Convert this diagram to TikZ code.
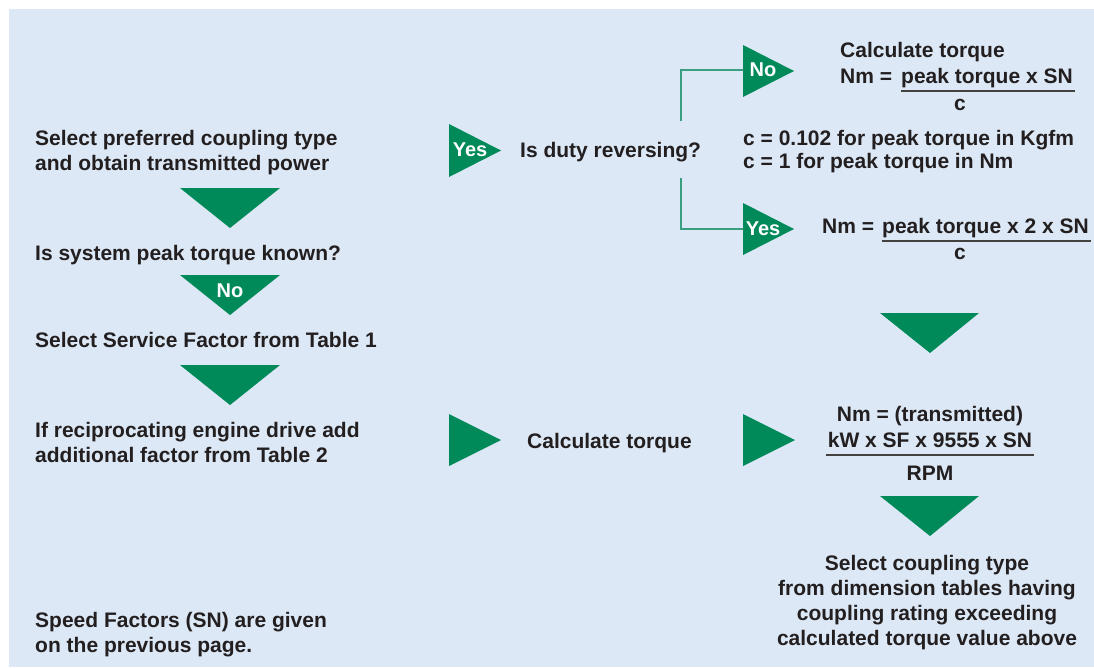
\documentclass[tikz,border=0pt]{standalone}
\usepackage{fontspec}
\setmainfont{Liberation Sans}
\usetikzlibrary{calc}
\definecolor{bgblue}{HTML}{DCE8F5}
\definecolor{tgreen}{HTML}{008A5A}
\definecolor{lgreen}{HTML}{3A9E80}
\definecolor{ink}{HTML}{231F20}
\begin{document}
\begin{tikzpicture}[x=1pt,y=-1pt,
  txt/.style={inner sep=0pt, text=ink, font=\fontsize{21}{25}\selectfont\bfseries},
  lbl/.style={inner sep=0pt, text=white, font=\fontsize{20}{24}\selectfont\bfseries},
  arrowtri/.style={fill=tgreen},
  bracket/.style={draw=lgreen, line width=1.4pt},
  fracline/.style={draw=ink!85, line width=1.4pt}]
\useasboundingbox (0,0) rectangle (1094,667);
\fill[bgblue] (9,9) rectangle (1094,667);

% left column
\node[txt, anchor=north west, align=left] (sel) at (35,130) {Select preferred coupling type\\and obtain transmitted power};
\fill[arrowtri] (180,188) -- (280,188) -- (230,228) -- cycle;
\node[txt, anchor=base west] (peak) at (35,260) {Is system peak torque known?};
\fill[arrowtri] (180,275) -- (280,275) -- (230,315) -- cycle;
\node[lbl] (no1) at (230,291) {No};
\node[txt, anchor=base west] (sf) at (35,347) {Select Service Factor from Table 1};
\fill[arrowtri] (180,365) -- (280,365) -- (230,405) -- cycle;
\node[txt, anchor=north west, align=left] (recip) at (35,422) {If reciprocating engine drive add\\additional factor from Table 2};
\node[txt, anchor=north west, align=left] (speed) at (35,612) {Speed Factors (SN) are given\\on the previous page.};

% middle column
\fill[arrowtri] (449,124) -- (501,150.5) -- (449,177) -- cycle;
\node[lbl] (yes1) at (470,150) {Yes};
\node[txt, anchor=base west] (duty) at (520,157) {Is duty reversing?};
\fill[arrowtri] (449,414) -- (501,440) -- (449,466) -- cycle;
\node[txt, anchor=base west] (calc) at (527,448) {Calculate torque};

% bracket
\coordinate (brtop) at (681,121);
\coordinate (brbot) at (681,178);
\coordinate (noin) at (743,70);
\coordinate (yesin) at (743,229);
\draw[bracket] (brtop) |- (noin);
\draw[bracket] (brbot) |- (yesin);

% right top
\fill[arrowtri] (743,45) -- (794,71) -- (743,97) -- cycle;
\node[lbl] (no2) at (763,70) {No};
\node[txt, anchor=base west] (ct) at (840,57) {Calculate torque};
\node[txt, anchor=base west] (nm1) at (840,83) {Nm =};
\node[txt, anchor=base west] (pk1) at (901,83) {peak torque x SN};
\draw[fracline] ($(pk1.base west)+(0,8)$) -- ($(pk1.base east)+(2,8)$);
\node[txt, anchor=base] (c1) at (960,110) {c};
\node[txt, anchor=north west, align=left, font=\fontsize{21}{23}\selectfont\bfseries] (cdef) at (743,130) {c = 0.102 for peak torque in Kgfm\\c = 1 for peak torque in Nm};
\fill[arrowtri] (743,203) -- (794,229) -- (743,255) -- cycle;
\node[lbl] (yes2) at (763,229) {Yes};
\node[txt, anchor=base west] (nm2) at (822,233) {Nm =};
\node[txt, anchor=base west] (pk2) at (882,233) {peak torque x 2 x SN};
\draw[fracline] ($(pk2.base west)+(0,8)$) -- ($(pk2.base east)+(2,8)$);
\node[txt, anchor=base] (c2) at (960,259) {c};

% right bottom
\fill[arrowtri] (880,313) -- (979,313) -- (930,353) -- cycle;
\fill[arrowtri] (743,414) -- (795,440) -- (743,466) -- cycle;
\node[txt, anchor=base] (nmt) at (930,421) {Nm = (transmitted)};
\node[txt, anchor=base] (kw) at (930,447) {kW x SF x 9555 x SN};
\draw[fracline] ($(kw.base west)+(-2,8)$) -- ($(kw.base east)+(2,8)$);
\node[txt, anchor=base] (rpm) at (930,480) {RPM};
\fill[arrowtri] (880,496) -- (979,496) -- (930,536) -- cycle;
\node[txt, anchor=north, align=center] (final) at (927,555) {Select coupling type\\from dimension tables having\\coupling rating exceeding\\calculated torque value above};
\end{tikzpicture}
\end{document}
